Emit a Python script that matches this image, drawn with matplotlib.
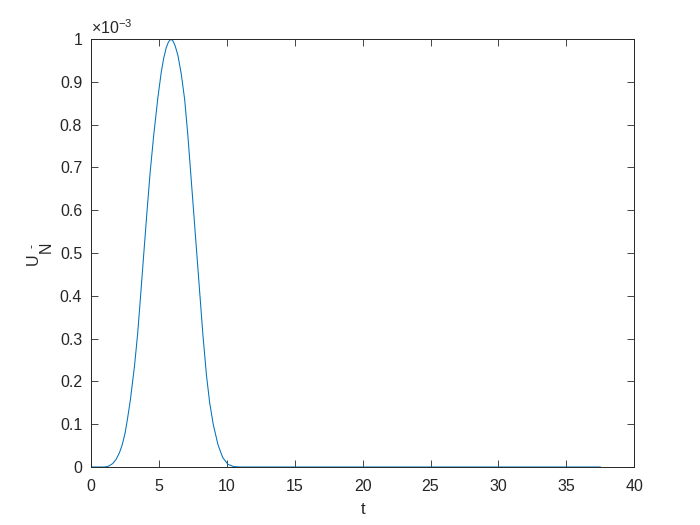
import matplotlib
matplotlib.use("Agg")
import matplotlib.pyplot as plt

plt.rcParams['font.family'] = ['Liberation Sans', 'DejaVu Sans']
plt.rcParams['mathtext.fontset'] = 'custom'
plt.rcParams['mathtext.rm'] = 'Liberation Sans'
plt.rcParams['mathtext.it'] = 'Liberation Sans'

# time values
t = [0.0, 1.0, 1.3, 1.6, 1.85, 2.09, 2.30, 2.51, 2.70, 2.90, 3.20, 3.44, 3.64,
     3.89, 4.13, 4.36, 4.62, 4.92, 5.17, 5.35, 5.54, 5.70, 5.88, 6.05, 6.20,
     6.40, 6.65, 6.90, 7.13, 7.50, 7.87, 8.24, 8.50, 8.74, 9.00, 9.35, 9.70,
     10.09, 10.5, 11.0, 37.5]
# U_N^- values in units of 1e-3
u = [0.0, 0.0, 0.002, 0.008, 0.018, 0.033, 0.052, 0.079, 0.115, 0.157, 0.235,
     0.313, 0.395, 0.50, 0.60, 0.69, 0.776, 0.862, 0.922, 0.955, 0.980, 0.993,
     1.0, 0.995, 0.984, 0.962, 0.918, 0.858, 0.776, 0.621, 0.465, 0.309, 0.215,
     0.150, 0.100, 0.052, 0.022, 0.006, 0.001, 0.0, 0.0]

xticks = [0, 5, 10, 15, 20, 25, 30, 35, 40]
yticks = [0, 0.1, 0.2, 0.3, 0.4, 0.5, 0.6, 0.7, 0.8, 0.9, 1]
ytick_labels = ['0', '0.1', '0.2', '0.3', '0.4', '0.5', '0.6', '0.7', '0.8', '0.9', '1']

W, H = 700, 525
fig = plt.figure(figsize=(7, 5.25), dpi=100)
ax = fig.add_axes([0.13, 0.1105, 0.776, 0.815])
ax.plot(t, u, color='#0072BD', linewidth=0.75)
ax.set_xlim(0, 40)
ax.set_ylim(0, 1)
ax.set_xticks(xticks)
ax.set_xticklabels([str(v) for v in xticks])
ax.set_yticks(yticks)
ax.set_yticklabels(ytick_labels)
ax.tick_params(direction='in', top=True, right=True, length=5, width=0.6,
               colors='#262626', labelsize=11.5, pad=6.3)
ax.tick_params(axis='x', pad=8.3)
for s in ax.spines.values():
    s.set_color('#262626')
    s.set_linewidth(0.7)
ax.set_xlabel('t', fontsize=12, color='#262626', labelpad=6)

# y label: U with superscript '-' and subscript N (rotated)
fig.text(33.5 / W, 1 - 259.5 / H, 'U', rotation=90, fontsize=11.5,
         color='#262626', ha='center', va='center')
fig.text(33.0 / W, 1 - 245.5 / H, '-', rotation=90, fontsize=9,
         color='#262626', ha='center', va='center')
fig.text(46.0 / W, 1 - 247.5 / H, 'N', rotation=90, fontsize=11.5,
         color='#262626', ha='center', va='center')

ax.text(0.0, 1.006, '×10$^{\\mathregular{-3}}$', transform=ax.transAxes, fontsize=11.5,
        color='#262626', ha='left', va='bottom')
fig.savefig('out.png', dpi=100)
